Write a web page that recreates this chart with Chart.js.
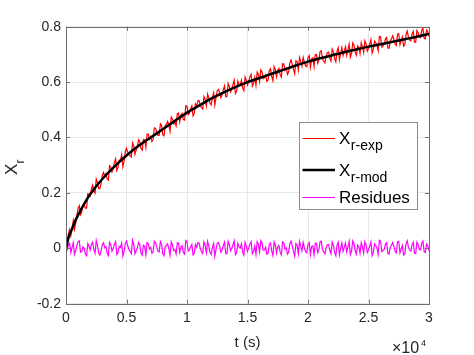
<!DOCTYPE html>
<html>
<head>
<meta charset="utf-8">
<script src="https://cdn.jsdelivr.net/npm/chart.js@4.4.1/dist/chart.umd.min.js"></script>
<style>
html,body{margin:0;padding:0;background:#fff;}
#wrap{width:474px;height:355px;position:relative;}
</style>
</head>
<body>
<div id="wrap"><canvas id="c" width="474" height="355"></canvas></div>
<script>
// ---- data ----
const sampleStart = 0;      // s
const sampleStep = 100;     // s
const xrExp = [
.000,.014,.052,.068,.045,.073,.100,.068,.092,.120,
.144,.154,.121,.130,.155,.158,.145,.145,.197,.195,
.189,.215,.228,.207,.199,.250,.237,.216,.215,.235,
.263,.274,.261,.269,.251,.246,.298,.293,.276,.289,
.310,.323,.281,.292,.318,.318,.338,.295,.315,.348,
.361,.347,.338,.334,.330,.381,.370,.339,.355,.368,
.392,.386,.360,.354,.393,.392,.364,.412,.412,.394,
.403,.385,.393,.435,.433,.419,.408,.408,.449,.443,
.410,.406,.442,.449,.458,.445,.423,.474,.466,.449,
.455,.442,.486,.488,.457,.480,.487,.465,.463,.515,
.514,.482,.488,.503,.514,.478,.487,.521,.514,.533,
.534,.515,.508,.503,.548,.538,.514,.557,.543,.523,
.518,.545,.561,.517,.546,.569,.574,.563,.544,.554,
.572,.586,.547,.548,.595,.584,.565,.575,.591,.607,
.559,.567,.604,.592,.590,.607,.578,.569,.618,.607,
.589,.602,.619,.628,.586,.595,.617,.588,.636,.628,
.602,.644,.637,.612,.615,.626,.603,.607,.642,.648,
.621,.605,.656,.645,.619,.643,.649,.626,.618,.666,
.665,.643,.650,.628,.637,.669,.680,.664,.647,.630,
.677,.674,.644,.689,.673,.658,.689,.671,.659,.656,
.689,.696,.654,.684,.688,.656,.699,.700,.668,.680,
.710,.713,.683,.676,.670,.694,.706,.708,.687,.676,
.719,.708,.684,.673,.712,.724,.681,.705,.725,.696,
.712,.728,.697,.717,.737,.690,.704,.742,.733,.709,
.697,.731,.726,.703,.742,.727,.707,.749,.738,.712,
.722,.737,.753,.705,.718,.748,.742,.735,.713,.765,
.763,.726,.731,.736,.756,.761,.723,.722,.749,.756,
.767,.754,.737,.732,.774,.775,.735,.750,.763,.730,
.735,.771,.784,.763,.752,.749,.774,.783,.744,.744,
.786,.778,.762,.761,.787,.795,.758,.756,.788,.782,
.765];
const residues = [
.004,-.006,.012,.018,-.015,.003,.020,-.022,-.008,.010,
.024,.027,-.014,-.012,.005,.001,-.020,-.027,.017,.008,
-.006,.015,.022,-.004,-.018,.028,.009,-.017,-.024,-.009,
.013,.020,.002,.006,-.017,-.026,.021,.012,-.010,-.001,
.015,.024,-.022,-.015,.007,.003,.019,-.028,-.012,.017,
.026,.009,-.004,-.011,-.019,.029,.014,-.020,-.008,.002,
.022,.013,-.016,-.025,.011,.007,-.024,.021,.018,-.003,
.003,-.018,-.013,.026,.021,.004,-.010,-.013,.025,.016,
-.020,-.027,.006,.010,.016,.000,-.025,.023,.012,-.008,
-.005,-.021,.020,.019,-.015,.005,.009,-.016,-.021,.028,
.024,-.010,-.007,.006,.014,-.024,-.018,.014,.004,.021,
.019,-.002,-.012,-.019,.023,.011,-.016,.025,.008,-.014,
-.022,.003,.017,-.029,-.003,.018,.021,.008,-.014,-.006,
.010,.022,-.019,-.020,.025,.012,-.009,-.001,.013,.027,
-.023,-.017,.018,.005,.001,.016,-.015,-.025,.022,.009,
-.011,.001,.016,.024,-.020,-.012,.008,-.022,.024,.015,
-.013,.028,.019,-.007,-.006,.004,-.021,-.018,.015,.020,
-.009,-.026,.023,.011,-.017,.006,.010,-.014,-.024,.023,
.020,-.003,.002,-.021,-.014,.017,.026,.009,-.010,-.028,
.017,.013,-.019,.025,.007,-.009,.021,.002,-.012,-.016,
.015,.021,-.022,.007,.009,-.024,.018,.018,-.016,-.005,
.024,.026,-.005,-.013,-.020,.003,.013,.014,-.008,-.020,
.022,.010,-.015,-.027,.011,.022,-.023,.000,.019,-.011,
.004,.019,-.013,.006,.025,-.023,-.010,.027,.017,-.008,
-.021,.012,.006,-.018,.020,.004,-.017,.024,.012,-.015,
-.006,.008,.023,-.026,-.014,.016,.009,.001,-.022,.029,
.026,-.012,-.008,-.004,.015,.020,-.019,-.021,.005,.011,
.021,.007,-.011,-.017,.024,.025,-.016,-.002,.010,-.024,
-.020,.015,.027,.005,-.007,-.010,.014,.022,-.018,-.019,
.022,.013,-.004,-.006,.019,.026,-.012,-.015,.016,.009,
-.009];
const modelT = [0,250,500,750,1000,1500,2000,3000,4000,5000,6000,7000,8000,9000,10000,11000,12000,13000,14000,15000,
16000,17000,18000,19000,20000,21000,22000,23000,24000,25000,26000,27000,28000,29000,30000];
const xrMod = [0,0.045,0.070,0.098,0.120,0.160,0.195,0.250,0.295,0.335,0.370,0.400,0.430,0.460,0.490,0.515,0.540,0.562,0.582,0.600,
0.615,0.630,0.645,0.660,0.674,0.686,0.697,0.708,0.718,0.728,0.737,0.746,0.755,0.764,0.774];
const xTickValues = [0,5000,10000,15000,20000,25000,30000];
const xTickLabels = ['0','0.5','1','1.5','2','2.5','3'];
const yTickValues = [-0.2,0,0.2,0.4,0.6,0.8];
const yTickLabels = ['-0.2','0','0.2','0.4','0.6','0.8'];
const seriesNames = [['X','r-exp'],['X','r-mod'],['Residues','']];
const seriesColors = ['#ff0000','#000000','#ff00ff'];

const expPts = xrExp.map((v,i)=>({x:sampleStart+i*sampleStep,y:v}));
const resPts = residues.map((v,i)=>({x:sampleStart+i*sampleStep,y:v}));
const modPts = xrMod.map((v,i)=>({x:modelT[i],y:v}));

const FONT = '"Liberation Sans", Arial, Helvetica, sans-serif';
const TXT = '#262626';
const AX = '#6e6e6e';

const deco = {
  id:'deco',
  afterDraw(chart){
    const ctx = chart.ctx, a = chart.chartArea;
    const xs = chart.scales.x, ys = chart.scales.y;
    ctx.save();
    ctx.strokeStyle = AX; ctx.lineWidth = 1;
    ctx.strokeRect(Math.round(a.left)+0.5, Math.round(a.top)+0.5, Math.round(a.right-a.left), Math.round(a.bottom-a.top));
    ctx.beginPath();
    yTickValues.forEach(v=>{
      const y = Math.round(ys.getPixelForValue(v))+0.5;
      ctx.moveTo(a.left, y); ctx.lineTo(a.left+4, y);
      ctx.moveTo(a.right, y); ctx.lineTo(a.right-4, y);
    });
    xTickValues.forEach(v=>{
      const x = Math.round(xs.getPixelForValue(v))+0.5;
      ctx.moveTo(x, a.bottom); ctx.lineTo(x, a.bottom-4);
      ctx.moveTo(x, a.top); ctx.lineTo(x, a.top+4);
    });
    ctx.stroke();
    // x title
    ctx.fillStyle = TXT;
    ctx.font = '15px '+FONT; ctx.textAlign='center'; ctx.textBaseline='alphabetic';
    ctx.fillText('t (s)', (a.left+a.right)/2, 347);
    // x10^4
    ctx.textAlign='left';
    ctx.font = '16px '+FONT;
    ctx.fillText('\u00d710', 392, 352.5);
    ctx.font = '9px '+FONT;
    ctx.fillText('4', 421, 345.5);
    // y title
    ctx.save();
    ctx.translate(17, 175); ctx.rotate(-Math.PI/2);
    ctx.font = '17px '+FONT; ctx.textAlign='left';
    ctx.fillText('X', 0, 0);
    ctx.font = '12px '+FONT;
    ctx.fillText('r', 11.5, 7);
    ctx.restore();
    // legend
    const lx = 299.5, ly = 122.5, lw = 118, lh = 87;
    ctx.fillStyle = '#fff'; ctx.fillRect(lx, ly, lw, lh);
    ctx.strokeStyle = '#8c8c8c'; ctx.lineWidth = 1; ctx.strokeRect(lx, ly, lw, lh);
    const rows = [138.5, 170, 197.5];
    const widths = [1, 2.5, 1];
    rows.forEach((yy,i)=>{
      ctx.strokeStyle = seriesColors[i]; ctx.lineWidth = widths[i];
      ctx.beginPath(); ctx.moveTo(302.5, yy); ctx.lineTo(335, yy); ctx.stroke();
      ctx.fillStyle = '#000';
      const [main, sub] = seriesNames[i];
      ctx.font = '17px '+FONT; ctx.textAlign='left';
      ctx.fillText(main, 339, yy+5.5);
      if (sub){
        const w = ctx.measureText(main).width;
        ctx.font = '14px '+FONT;
        ctx.fillText(sub, 339+w+0.5, yy+11.5);
      }
    });
    ctx.restore();
  }
};

new Chart(document.getElementById('c'), {
  type:'line',
  data:{
    datasets:[
      {label:'X r-mod', data:modPts, borderColor:seriesColors[1], borderWidth:2.5, pointRadius:0, tension:0.3, order:0},
      {label:'X r-exp', data:expPts, borderColor:seriesColors[0], borderWidth:1.2, pointRadius:0, tension:0, order:1},
      {label:'Residues', data:resPts, borderColor:seriesColors[2], borderWidth:1.2, pointRadius:0, tension:0, order:2}
    ]
  },
  options:{
    responsive:false, animation:false, events:[],
    layout:{padding:{left:0, right:45, top:26.7, bottom:0}},
    plugins:{legend:{display:false}, tooltip:{enabled:false}},
    scales:{
      x:{
        type:'linear', min:0, max:30000,
        afterBuildTicks(s){ s.ticks = xTickValues.map(v=>({value:v})); },
        afterFit(s){ s.height = 51.3; },
        ticks:{ callback:(v)=>xTickLabels[xTickValues.indexOf(v)], color:TXT, font:{family:FONT,size:14}, padding:6, maxRotation:0, autoSkip:false },
        grid:{ color:'#e8e8e8', lineWidth:1, drawTicks:false },
        border:{ display:false }
      },
      y:{
        type:'linear', min:-0.2, max:0.8,
        afterBuildTicks(s){ s.ticks = yTickValues.map(v=>({value:v})); },
        afterFit(s){ s.width = 66; },
        ticks:{ callback:(v)=>yTickLabels[yTickValues.findIndex(t=>Math.abs(t-v)<1e-9)], color:TXT, font:{family:FONT,size:14}, padding:5, autoSkip:false },
        grid:{ color:'#e8e8e8', lineWidth:1, drawTicks:false },
        border:{ display:false }
      }
    }
  },
  plugins:[deco]
});
</script>
</body>
</html>
